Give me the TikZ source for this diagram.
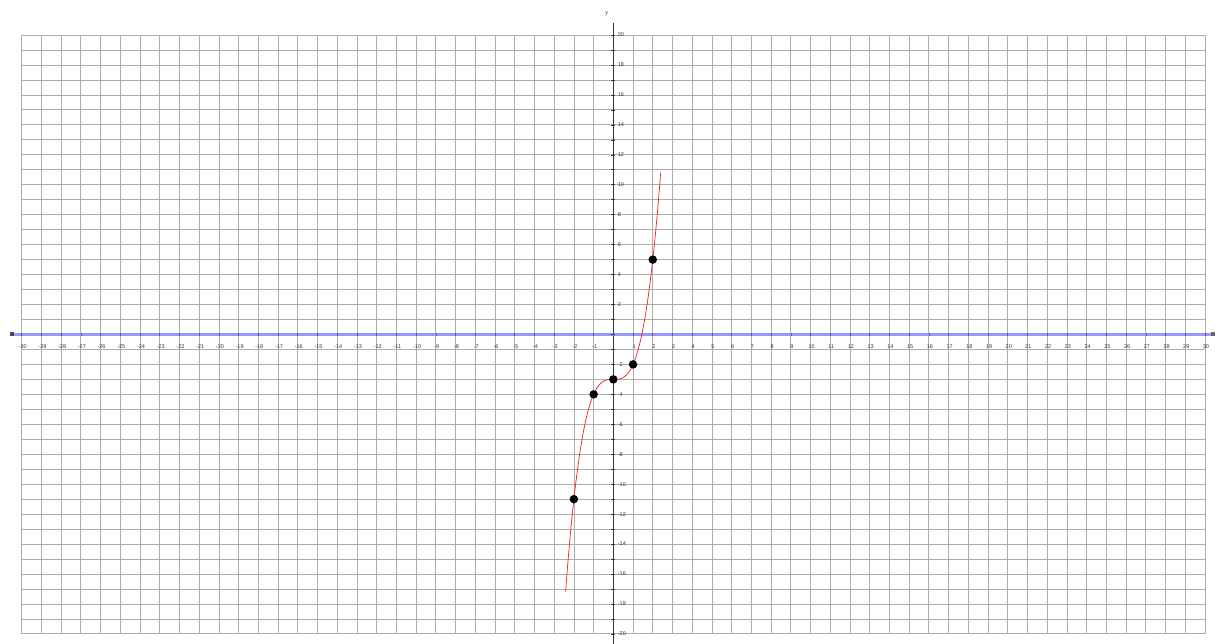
\documentclass[tikz,border=0pt]{standalone}
\usepackage{fontspec}
\setmainfont{Liberation Sans}
\begin{document}
\begin{tikzpicture}[x=19.72bp,y=14.97bp,
  gridline/.style={draw=black!32,line width=0.8bp},
  xaxisline/.style={draw=blue!40!white,line width=3.5bp},
  yaxisline/.style={draw=black!80,line width=1bp},
  ticklab/.style={font=\fontsize{5.5}{6}\selectfont,text=black!80,inner sep=0pt},
  curve/.style={draw=red!90!white,line width=0.7bp},
  dot/.style={circle,fill=black,inner sep=0pt,minimum size=8.5bp}]
\useasboundingbox (-31.1,-20.67) rectangle (30.71,22.34);
\fill[white] (-31.1,-20.67) rectangle (30.71,22.34);
% grid
\foreach \i in {-30,...,30} \draw[gridline] (\i,-20) -- (\i,20);
\foreach \j in {-20,...,20} \draw[gridline] (-30,\j) -- (30,\j);
% axes
\coordinate (xl) at (-30.5,0);
\coordinate (xr) at (30.4,0);
\coordinate (yt) at (0,20.8);
\coordinate (yb) at (0,-20.67);
\draw[xaxisline] (xl) -- (xr);
\fill[black!70] ([xshift=-2bp,yshift=-2bp]xl) rectangle ([xshift=2bp,yshift=2bp]xl);
\fill[black!60] ([xshift=-2bp,yshift=-2bp]xr) rectangle ([xshift=2bp,yshift=2bp]xr);
\draw[yaxisline] (yb) -- (yt);
\node[ticklab] (ylab) at (-0.33,21.45) {y};
% ticks
\foreach \j in {-20,...,20} \draw[black!80,line width=0.6bp] (-0.1,\j) -- (0.1,\j);
\foreach \i in {-30,...,30} \draw[black!60,line width=0.6bp] (\i,-0.12) -- (\i,0.12);
% tick labels
\foreach \i in {-30,...,-1,1,2,...,30}
  \node[ticklab] (xt\i) at (\i+0.05,-0.8) {\i};
\foreach \j in {-20,-18,...,-2,2,4,...,20}
  \node[ticklab,anchor=west] (yt\j) at (0.22,\j) {\j};
% curve y = x^3 - 3
\draw[curve] plot[domain=-2.42:2.4,samples=80,smooth] (\x,{\x*\x*\x-3});
% points
\node[dot] (p1) at (-2,-11) {};
\node[dot] (p2) at (-1,-4) {};
\node[dot] (p3) at (0,-3) {};
\node[dot] (p4) at (1,-2) {};
\node[dot] (p5) at (2,5) {};
\end{tikzpicture}
\end{document}
